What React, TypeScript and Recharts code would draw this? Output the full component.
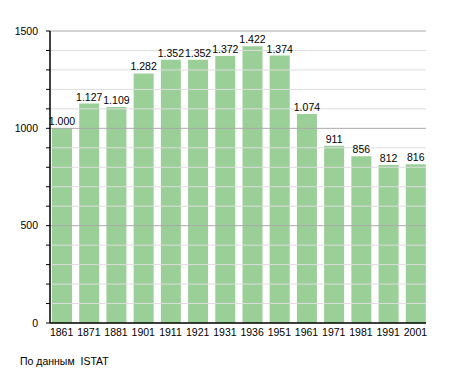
import React from 'react';
import { BarChart, Bar, XAxis, YAxis, ReferenceLine, LabelList } from 'recharts';

const years = ['1861', '1871', '1881', '1901', '1911', '1921', '1931', '1936', '1951', '1961', '1971', '1981', '1991', '2001'];
const population = [1000, 1127, 1109, 1282, 1352, 1352, 1372, 1422, 1374, 1074, 911, 856, 812, 816];
const yTicks = [0, 100, 200, 300, 400, 500, 600, 700, 800, 900, 1000, 1100, 1200, 1300, 1400, 1500];
const majorTicks = [500, 1000, 1500];
const sourceText = 'По данным  ISTAT';

const data = years.map((y, i) => ({ year: y, value: population[i] }));

const fmt = (v: number) => {
  const s = String(v);
  return v >= 1000 ? s.slice(0, s.length - 3) + '.' + s.slice(s.length - 3) : s;
};

const FONT = '"Liberation Sans", Arial, sans-serif';

export default function App() {
  return (
    <div style={{ position: 'absolute', left: 0, top: 0, width: 455, height: 373, background: '#fff', fontFamily: FONT }}>
      <BarChart
        width={455}
        height={373}
        data={data}
        margin={{ top: 31, right: 29, bottom: 30, left: 0 }}
        barSize={20}
        style={{ fontFamily: FONT }}
      >
        {yTicks.filter((t) => t > 0).map((t) => (
          <ReferenceLine
            key={t}
            y={t}
            stroke={majorTicks.includes(t) ? '#aaaaaa' : '#dddddd'}
            strokeWidth={1}
            ifOverflow="extendDomain"
          />
        ))}
        <XAxis
          dataKey="year"
          tickLine={false}
          axisLine={{ stroke: '#000', strokeWidth: 1.5 }}
          tick={{ fontSize: 10.5, fill: '#000', fontFamily: FONT }}
          tickMargin={0}
          interval={0}
          height={20}
          padding={{ left: -2, right: -3 }}
        />
        <YAxis
          domain={[0, 1500]}
          ticks={yTicks}
          interval={0}
          width={50}
          tickSize={4}
          tickMargin={8}
          tickLine={{ stroke: '#000' }}
          axisLine={{ stroke: '#000', strokeWidth: 1.5 }}
          tick={{ fontSize: 10.5, fill: '#000', fontFamily: FONT }}
          tickFormatter={(v: number) => (v % 500 === 0 ? String(v) : '')}
        />
        <Bar dataKey="value" fill="#9bcf98" isAnimationActive={false}>
          <LabelList
            dataKey="value"
            position="top"
            offset={3}
            formatter={(v: number) => fmt(v)}
            style={{ fontSize: 10.5, fill: '#000', fontFamily: FONT }}
          />
        </Bar>
      </BarChart>
      <div style={{ position: 'absolute', left: 20, top: 355, fontSize: 10.5, color: '#000', whiteSpace: 'pre', fontFamily: FONT }}>
        {sourceText}
      </div>
    </div>
  );
}
